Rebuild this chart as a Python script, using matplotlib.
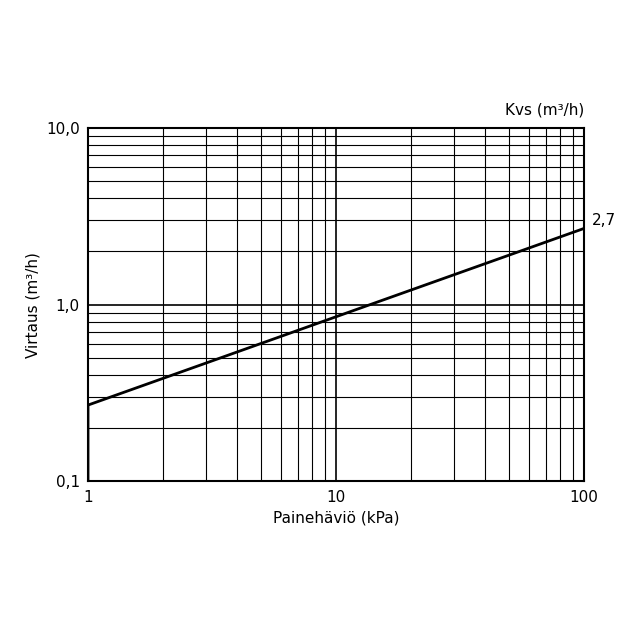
import matplotlib.pyplot as plt
import numpy as np

kvs = 2.7
dp = [1, 1, 100]          # kPa
flow = [0.1, 0.27, 2.7]   # m3/h
xticks = [1, 10, 100]
xlabels = ['1', '10', '100']
yticks = [0.1, 1.0, 10.0]
ylabels = ['0,1', '1,0', '10,0']

fig = plt.figure(figsize=(6.4, 6.4), dpi=100)
ax = fig.add_axes([0.1375, 0.248, 0.775, 0.552])
ax.set_xscale('log')
ax.set_yscale('log')
ax.set_xlim(1, 100)
ax.set_ylim(0.1, 10)

ax.plot(dp, flow, color='black', lw=2, solid_joinstyle='miter')

ax.set_xticks(xticks)
ax.set_xticklabels(xlabels, fontsize=11)
ax.set_yticks(yticks)
ax.set_yticklabels(ylabels, fontsize=11)
ax.tick_params(which='both', length=0, pad=6)
ax.minorticks_on()
ax.tick_params(which='minor', labelleft=False, labelbottom=False)
ax.grid(True, which='major', color='black', lw=1.2)
ax.grid(True, which='minor', color='black', lw=0.8)
for s in ax.spines.values():
    s.set_linewidth(1.5)

ax.set_xlabel('Painehäviö (kPa)', fontsize=11, labelpad=4)
ax.set_ylabel('Virtaus (m³/h)', fontsize=11, labelpad=4)
ax.text(1.0, 1.03, 'Kvs (m³/h)', transform=ax.transAxes, ha='right', va='bottom', fontsize=11)
ax.text(1.015, kvs, '2,7', transform=ax.get_yaxis_transform(), ha='left', va='bottom', fontsize=11)

fig.savefig('out.png')
